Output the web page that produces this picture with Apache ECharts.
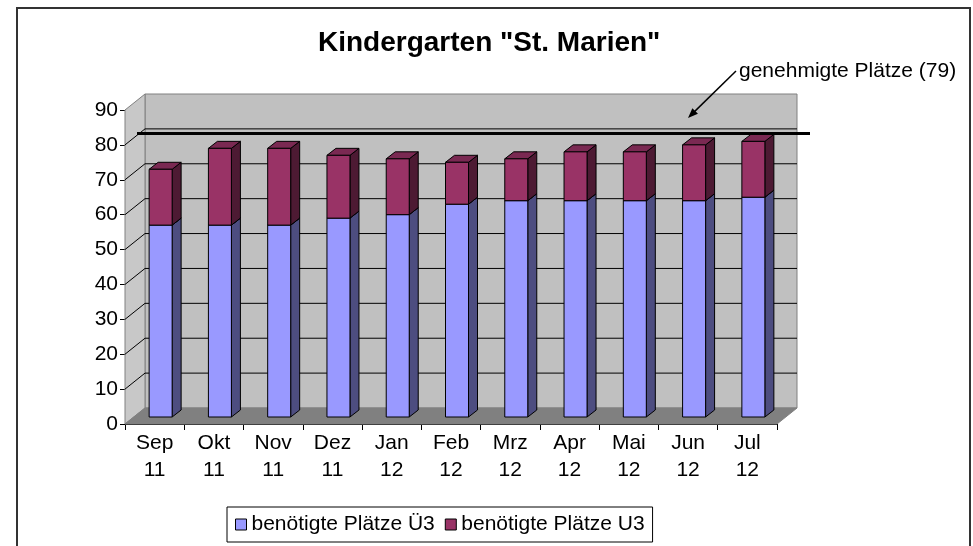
<!DOCTYPE html>
<html lang="de">
<head>
<meta charset="UTF-8">
<title>Kindergarten "St. Marien"</title>
<script src="https://cdn.jsdelivr.net/npm/echarts@6/dist/echarts.min.js"></script>
<style>
    html, body { margin: 0; padding: 0; background: #fff; }
    #chart { width: 973px; height: 546px; }
</style>
</head>
<body>
<div id="chart"></div>
<script>
    // Daten
    var monate = ['Sep\n11', 'Okt\n11', 'Nov\n11', 'Dez\n11', 'Jan\n12', 'Feb\n12',
                  'Mrz\n12', 'Apr\n12', 'Mai\n12', 'Jun\n12', 'Jul\n12'];
    var plaetzeUe3 = [55, 55, 55, 57, 58, 61, 62, 62, 62, 62, 63];
    var plaetzeU3  = [16, 22, 22, 18, 16, 12, 12, 14, 14, 16, 16];
    var genehmigt = 79;
    var yMin = 0, yMax = 90, yStep = 10;

    var schrift = 'Liberation Sans, Arial, sans-serif';

    // 3D-Versatz (Pixel)
    var tiefe = [20, -16];       // Rückwand gegenüber Vorderkante
    var barVersatz = [6, -7];    // Vorderseite der Säulen
    var barTiefe = [9, -7];      // Tiefe der Säulen
    var barBreite = 23;

    // gestapelte Werte: [kategorie, unten, oben]
    var ue3Daten = plaetzeUe3.map(function (v, i) { return [i, 0, v]; });
    var u3Daten = plaetzeU3.map(function (v, i) { return [i, plaetzeUe3[i], plaetzeUe3[i] + v]; });

    function renderWaende(params, api) {
        var cs = params.coordSys;
        var L = cs.x, T = cs.y, R = cs.x + cs.width, B = cs.y + cs.height;
        var dx = tiefe[0], dy = tiefe[1];
        var kinder = [];
        kinder.push({type: 'rect', shape: {x: L + dx, y: T + dy, width: cs.width, height: cs.height},
            style: {fill: '#c0c0c0', stroke: '#808080', lineWidth: 1}});
        kinder.push({type: 'polygon', shape: {points: [[L, T], [L + dx, T + dy], [L + dx, B + dy], [L, B]]},
            style: {fill: '#c8c8c8', stroke: '#808080', lineWidth: 1}});
        kinder.push({type: 'polygon', shape: {points: [[L, B], [R, B], [R + dx, B + dy], [L + dx, B + dy]]},
            style: {fill: '#808080', stroke: '#808080', lineWidth: 1}});
        for (var v = yMin + yStep; v < yMax; v += yStep) {
            var y = api.coord([0, v])[1];
            kinder.push({type: 'line', shape: {x1: L, y1: y, x2: L + dx, y2: y + dy},
                style: {stroke: '#000', lineWidth: 1}});
            kinder.push({type: 'line', shape: {x1: L + dx, y1: y + dy, x2: R + dx, y2: y + dy},
                style: {stroke: '#000', lineWidth: 1}});
        }
        return {type: 'group', children: kinder};
    }

    function renderSaeulen(farben) {
        return function (params, api) {
            var idx = api.value(0);
            var unten = api.coord([idx, api.value(1)]);
            var oben = api.coord([idx, api.value(2)]);
            var x0 = unten[0] + barVersatz[0] - barBreite / 2, x1 = x0 + barBreite;
            var yu = unten[1] + barVersatz[1], yo = oben[1] + barVersatz[1];
            var dx = barTiefe[0], dy = barTiefe[1];
            return {type: 'group', children: [
                {type: 'polygon', shape: {points: [[x1, yo], [x1 + dx, yo + dy], [x1 + dx, yu + dy], [x1, yu]]},
                    style: {fill: farben.seite, stroke: '#000', lineWidth: 1}},
                {type: 'polygon', shape: {points: [[x0, yo], [x1, yo], [x1 + dx, yo + dy], [x0 + dx, yo + dy]]},
                    style: {fill: farben.oben, stroke: '#000', lineWidth: 1}},
                {type: 'rect', shape: {x: x0, y: yo, width: barBreite, height: yu - yo},
                    style: {fill: farben.vorne, stroke: '#000', lineWidth: 1}}
            ]};
        };
    }

    function renderGrenze(params, api) {
        var cs = params.coordSys;
        var y = api.coord([0, api.value(1)])[1] - 15;
        return {type: 'line', shape: {x1: cs.x + 12, y1: y, x2: cs.x + cs.width + 33, y2: y},
            style: {stroke: '#000', lineWidth: 3}};
    }

    // Pfeil zur Linie
    var pfeilStart = [736, 71], pfeilEnde = [688, 118];
    var ux = pfeilEnde[0] - pfeilStart[0], uy = pfeilEnde[1] - pfeilStart[1];
    var len = Math.sqrt(ux * ux + uy * uy); ux /= len; uy /= len;
    var kopf = [
        pfeilEnde,
        [pfeilEnde[0] - ux * 10 - uy * 4, pfeilEnde[1] - uy * 10 + ux * 4],
        [pfeilEnde[0] - ux * 10 + uy * 4, pfeilEnde[1] - uy * 10 - ux * 4]
    ];

    var chart = echarts.init(document.getElementById('chart'));
    var option = {
        backgroundColor: '#fff',
        animation: false,
        title: {
            text: 'Kindergarten "St. Marien"',
            left: 318, top: 29, padding: 0,
            textStyle: {fontFamily: schrift, fontSize: 28, fontWeight: 'bold', color: '#000'}
        },
        legend: {
            data: [
                {name: 'benötigte Plätze Ü3', icon: 'rect'},
                {name: 'benötigte Plätze U3', icon: 'rect'}
            ],
            left: 227, top: 507,
            itemWidth: 11, itemHeight: 11, itemGap: 10,
            padding: [7, 8],
            borderColor: '#000', borderWidth: 1,
            itemStyle: {borderColor: '#000', borderWidth: 1},
            textStyle: {fontFamily: schrift, fontSize: 21, color: '#000'}
        },
        grid: {left: 125, right: 196, top: 110, bottom: 122},
        xAxis: {
            type: 'category',
            data: monate,
            axisLine: {lineStyle: {color: '#000', width: 1}},
            axisTick: {show: true, length: 6, lineStyle: {color: '#000'}},
            axisLabel: {interval: 0, margin: 6, fontFamily: schrift, fontSize: 21, lineHeight: 27, color: '#000'},
            splitLine: {show: false}
        },
        yAxis: {
            type: 'value',
            min: yMin, max: yMax, interval: yStep,
            axisLine: {show: true, lineStyle: {color: '#000', width: 1}},
            axisTick: {show: true, length: 5, lineStyle: {color: '#000'}},
            axisLabel: {margin: 7, fontFamily: schrift, fontSize: 21, color: '#000'},
            splitLine: {show: false}
        },
        series: [
            {type: 'custom', name: 'waende', z: 1, silent: true, renderItem: renderWaende, data: [[0, 0]]},
            {type: 'custom', name: 'benötigte Plätze Ü3', z: 3, renderItem: renderSaeulen({vorne: '#9999ff', seite: '#4d4d80', oben: '#7a7acc'}),
                itemStyle: {color: '#9999ff'}, encode: {x: 0, y: [1, 2]}, data: ue3Daten},
            {type: 'custom', name: 'benötigte Plätze U3', z: 3, renderItem: renderSaeulen({vorne: '#993366', seite: '#4d1a33', oben: '#7a2952'}),
                itemStyle: {color: '#993366'}, encode: {x: 0, y: [1, 2]}, data: u3Daten},
            {type: 'custom', name: 'genehmigt', z: 4, silent: true, renderItem: renderGrenze, data: [[0, genehmigt]]}
        ],
        graphic: [
            {type: 'rect', z: 10, shape: {x: 17, y: 8, width: 953, height: 600}, style: {fill: 'none', stroke: '#333', lineWidth: 2}, silent: true},
            {type: 'text', z: 10, x: 739, y: 71, style: {text: 'genehmigte Plätze (79)', font: '21px ' + schrift, fill: '#000', verticalAlign: 'middle'}},
            {type: 'line', z: 10, shape: {x1: pfeilStart[0], y1: pfeilStart[1], x2: pfeilEnde[0] - ux * 8, y2: pfeilEnde[1] - uy * 8}, style: {stroke: '#000', lineWidth: 1.5}},
            {type: 'polygon', z: 10, shape: {points: kopf}, style: {fill: '#000'}}
        ]
    };
    chart.setOption(option);
</script>
</body>
</html>
